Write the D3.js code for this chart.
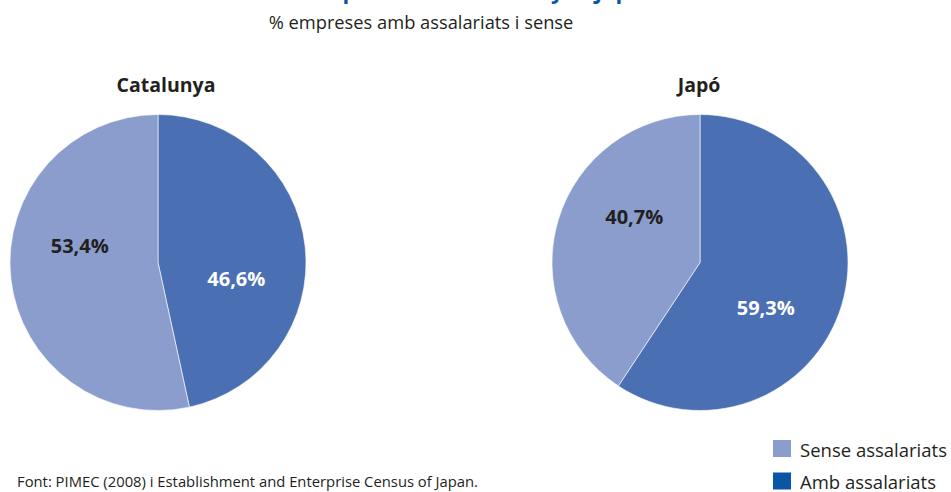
<!DOCTYPE html>
<html>
<head>
<meta charset="utf-8">
<script src="https://cdn.jsdelivr.net/npm/d3@7"></script>
<style>
  html, body { margin: 0; padding: 0; background: #ffffff; }
  svg { display: block; font-family: "Open Sans", "Noto Sans", sans-serif; }
</style>
</head>
<body>
<svg id="chart" width="951" height="492"></svg>
<script>
// ---- data ----
const chartTitle = "Dimensió empresarial a Catalunya i Japó";
const chartSubtitle = "% empreses amb assalariats i sense";
const sourceNote = "Font: PIMEC (2008) i Establishment and Enterprise Census of Japan.";
const regions = ["Catalunya", "Japó"];
const seriesNames = ["Amb assalariats", "Sense assalariats"];
const ambValues = [46.6, 59.3];
const senseValues = [53.4, 40.7];
const legendOrder = ["Sense assalariats", "Amb assalariats"];

// ---- styles ----
const sliceColor = d3.scaleOrdinal().domain(seriesNames).range(["#4a70b3", "#8b9dcd"]);
const legendColor = d3.scaleOrdinal().domain(seriesNames).range(["#0a55a5", "#8b9dcd"]);
const labelColor = d3.scaleOrdinal().domain(seriesNames).range(["#ffffff", "#231f20"]);

const svg = d3.select("#chart");

// title (only partly visible, cut at the top edge as in the reference)
svg.append("text")
  .attr("x", 421).attr("y", -1)
  .attr("text-anchor", "middle")
  .attr("font-size", 22).attr("font-weight", 700)
  .attr("fill", "#0a55a5")
  .text(chartTitle);

svg.append("text")
  .attr("x", 421).attr("y", 29)
  .attr("text-anchor", "middle")
  .attr("font-size", 18.3)
  .attr("fill", "#231f20")
  .text(chartSubtitle);

const panelX = d3.scalePoint().domain(regions).range([158, 700]);
const titleX = d3.scalePoint().domain(regions).range([166, 699]);
const cy = 262.5, R = 148;

const pie = d3.pie().sort(null).value(d => d.value);
const arc = d3.arc().innerRadius(0).outerRadius(R);
const labelRadius = 80, labelRotate = 18 * Math.PI / 180;

regions.forEach((region, i) => {
  const data = [
    { name: seriesNames[0], value: ambValues[i] },
    { name: seriesNames[1], value: senseValues[i] }
  ];
  const g = svg.append("g").attr("transform", `translate(${panelX(region)},${cy})`);
  const arcs = pie(data);
  g.selectAll("path").data(arcs).join("path")
    .attr("d", arc)
    .attr("fill", d => sliceColor(d.data.name))
    .attr("stroke", "#ffffff")
    .attr("stroke-width", 0.6);

  g.selectAll("text.lbl").data(arcs).join("text")
    .attr("class", "lbl")
    .attr("transform", d => {
      const a = (d.startAngle + d.endAngle) / 2 + labelRotate;
      return `translate(${labelRadius * Math.sin(a)},${-labelRadius * Math.cos(a)})`;
    })
    .attr("text-anchor", "middle")
    .attr("dy", "0.35em")
    .attr("font-size", 20).attr("font-weight", 700)
    .attr("fill", d => labelColor(d.data.name))
    .text(d => d.data.value.toFixed(1).replace(".", ",") + "%");

  svg.append("text")
    .attr("x", titleX(region)).attr("y", 92)
    .attr("text-anchor", "middle")
    .attr("font-size", 19.5).attr("font-weight", 700)
    .attr("fill", "#231f20")
    .text(region);
});

// legend
const lg = svg.append("g").attr("transform", "translate(773,440)");
const li = lg.selectAll("g").data(legendOrder).join("g")
  .attr("transform", (d, i) => `translate(0,${i * 32.5})`);
li.append("rect").attr("width", 18).attr("height", 17)
  .attr("fill", d => legendColor(d));
li.append("text").attr("x", 27).attr("y", 16.5)
  .attr("font-size", 18.5).attr("fill", "#231f20")
  .text(d => d);

svg.append("text")
  .attr("x", 17).attr("y", 487)
  .attr("font-size", 14.8).attr("fill", "#231f20")
  .text(sourceNote);
</script>
</body>
</html>
